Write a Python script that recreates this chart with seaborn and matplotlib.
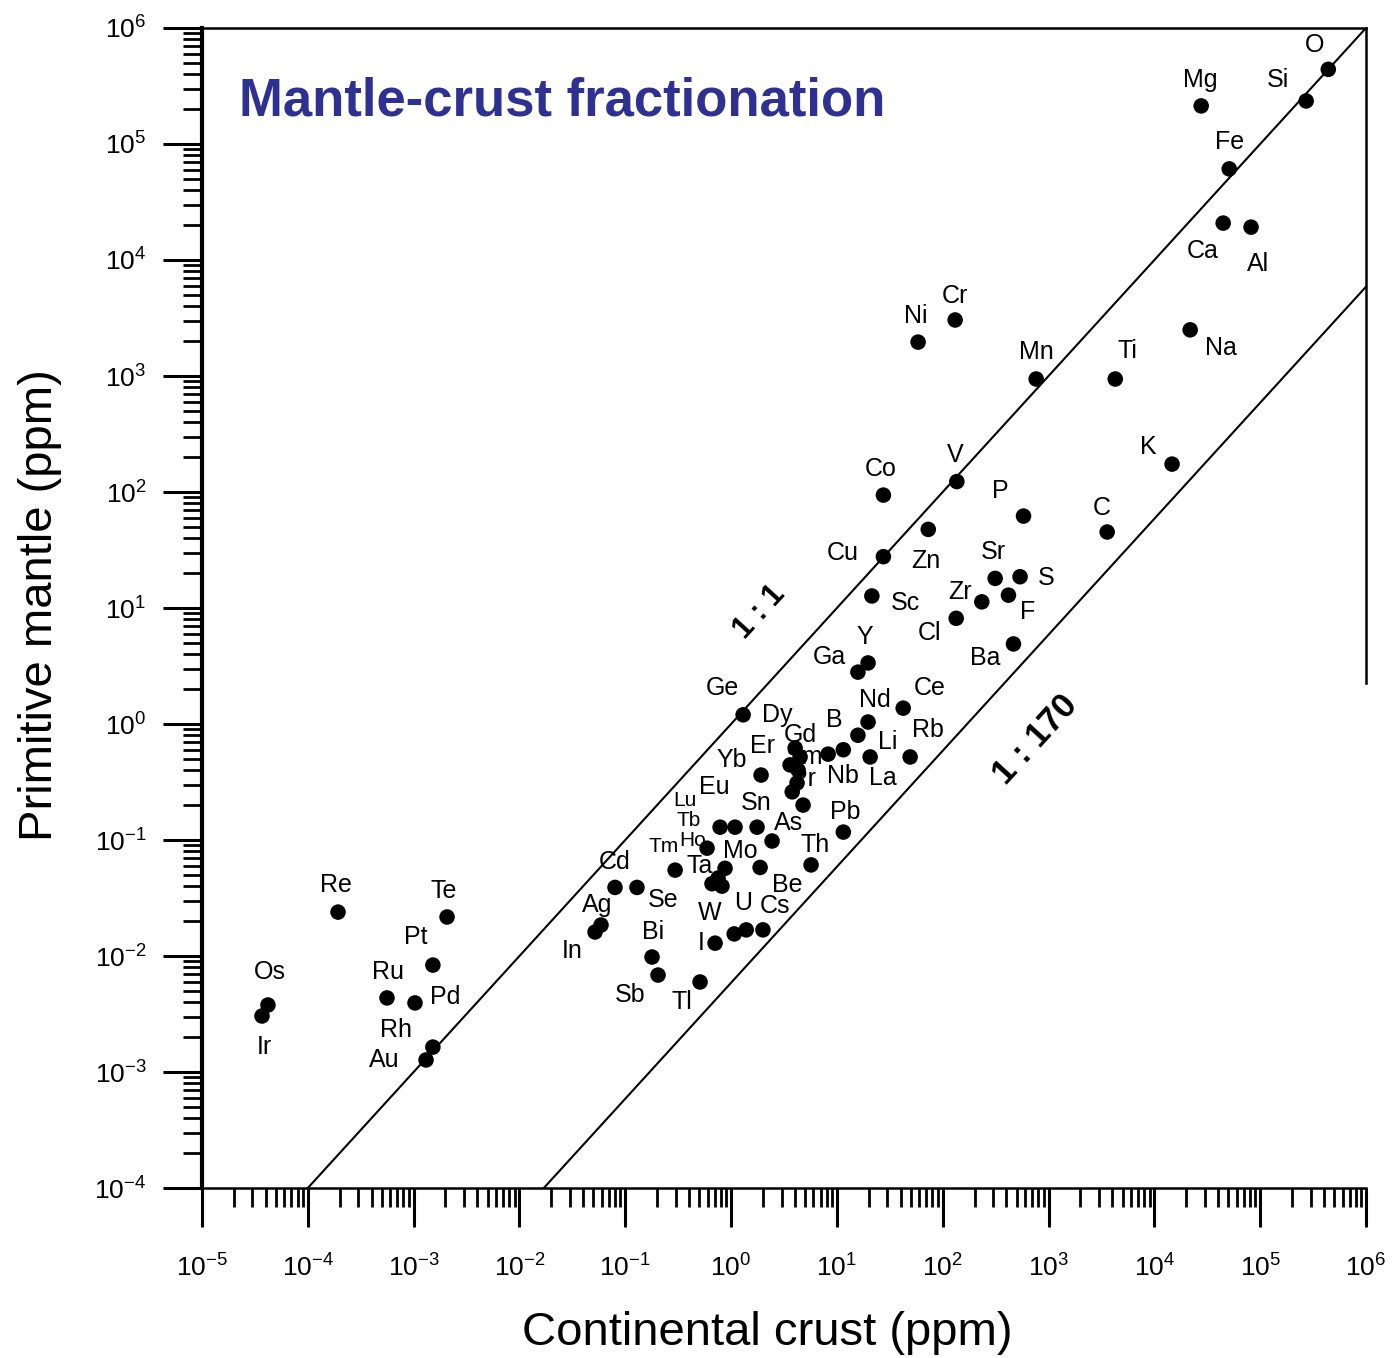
import numpy as np
import pandas as pd
import matplotlib
matplotlib.use("Agg")
import matplotlib.pyplot as plt
import seaborn as sns
from matplotlib.ticker import LogLocator, FuncFormatter, NullFormatter

# ---------------- data (ppm) ----------------
elements = ["O", "Si", "Mg", "Fe", "Ca", "Al", "Na", "Ti", "Mn", "Cr", "Ni", "K", "C",
            "P", "V", "Co", "Cu", "Zn", "Sr", "S", "F", "Zr", "Sc", "Cl", "Ba", "Y", "Ga",
            "Ce", "Nd", "B", "Li", "Rb", "Nb", "La", "Ge", "Yb", "Dy", "Gd", "Er", "Sm",
            "Pr", "Ho", "Hf", "Tb", "Eu", "Sn", "As", "Lu", "Be", "Th", "Pb", "Tm", "Mo",
            "Ta", "Hg", "Hf2", "Cd", "Se", "Ag", "In", "Bi", "Sb", "Tl", "I", "W", "U", "Cs",
            "Re", "Te", "Pt", "Ru", "Pd", "Os", "Ir", "Rh", "Au"]
crust = [4.4e5, 2.72e5, 2.77e4, 5.1e4, 4.47e4, 8.2e4, 2.18e4, 4270, 764, 131, 58.5, 1.47e4, 3580,
         580, 136, 27.5, 27.5, 73, 313, 538, 418, 234, 21.4, 134, 466, 19.7, 15.8,
         42.3, 19.7, 15.8, 20.6, 49.2, 8.26, 11.5, 1.30, 1.92, 4.03, 4.49, 3.61, 4.30,
         4.20, 3.78, 4.79, 0.787, 1.09, 1.76, 2.44, 0.593, 1.88, 5.70, 11.5, 0.296, 0.877,
         0.753, 0.82, 0.66, 0.080, 0.129, 0.059, 0.0518, 0.179, 0.204, 0.509, 0.706, 1.07, 1.39, 2.0,
         1.93e-4, 2.07e-3, 1.52e-3, 5.6e-4, 1.03e-3, 4.2e-5, 3.69e-5, 1.52e-3, 1.31e-3]
mantle = [4.4e5, 2.35e5, 2.13e5, 6.1e4, 2.08e4, 1.92e4, 2.5e3, 942, 942, 3040, 1960, 174, 45.2,
          62, 123, 94, 27.7, 47.6, 18, 18.6, 12.9, 11.3, 12.7, 8.15, 4.9, 3.36, 2.8,
          1.37, 1.04, 0.80, 0.52, 0.52, 0.55, 0.60, 1.20, 0.363, 0.62, 0.52, 0.444, 0.40,
          0.31, 0.26, 0.20, 0.129, 0.129, 0.129, 0.098, 0.085, 0.058, 0.061, 0.117, 0.055, 0.057,
          0.047, 0.040, 0.042, 0.039, 0.039, 0.0185, 0.0161, 0.0098, 0.00685, 0.00597, 0.0129, 0.0155, 0.0168, 0.0168,
          0.0239, 0.0217, 8.35e-3, 4.35e-3, 3.94e-3, 3.78e-3, 3.04e-3, 1.64e-3, 1.27e-3]

# element labels and their placement (log10 crust, log10 mantle)
label_text = ["O", "Si", "Mg", "Fe", "Ca", "Al", "Ni", "Cr", "Mn", "Ti", "Na", "K", "C",
              "P", "V", "Co", "Cu", "Zn", "Sr", "S", "Zr", "F", "Sc", "Cl", "Ba", "Y", "Ga",
              "Ce", "Nd", "B", "Rb", "Li", "La", "Nb", "Pr", "Ge", "Dy", "Gd", "Sm", "Er", "Yb",
              "Eu", "Lu", "Tb", "Ho", "Tm", "Sn", "As", "Pb", "Th", "Mo", "Ta", "Cd", "Se",
              "Ag", "In", "Bi", "Sb", "Tl", "I", "W", "U", "Cs", "Be",
              "Re", "Te", "Pt", "Os", "Ir", "Ru", "Pd", "Rh", "Au"]
label_lx = [5.510, 5.170, 4.433, 4.707, 4.461, 4.981, 1.749, 2.117, 2.883, 3.743, 4.631, 3.941, 3.507,
            2.543, 2.117, 1.418, 1.059, 1.843, 2.476, 2.977, 2.164, 2.807, 1.645, 1.872, 2.401, 1.267, 0.926,
            1.881, 1.361, 0.974, 1.862, 1.484, 1.437, 1.059, 0.681, -0.085, 0.440, 0.650, 0.699, 0.293, 0.009,
            -0.160, -0.440, -0.406, -0.360, -0.640, 0.236, 0.539, 1.077, 0.794, 0.085, -0.293, -1.096, -0.643,
            -1.267, -1.503, -0.737, -0.955, -0.463, -0.284, -0.198, 0.113, 0.416, 0.529,
            -3.733, -2.713, -2.977, -4.357, -4.414, -3.242, -2.703, -3.166, -3.280]
label_ly = [5.853, 5.552, 5.552, 5.017, 4.078, 3.966, 3.517, 3.690, 3.207, 3.216, 3.241, 2.388, 1.862,
            2.009, 2.319, 2.198, 1.474, 1.405, 1.483, 1.259, 1.138, 0.966, 1.043, 0.784, 0.569, 0.750, 0.578,
            0.310, 0.207, 0.034, -0.052, -0.155, -0.466, -0.448, -0.474, 0.310, 0.080, -0.095, -0.284, -0.190, -0.310,
            -0.540, -0.660, -0.830, -1.000, -1.060, -0.681, -0.853, -0.759, -1.043, -1.095, -1.224, -1.190, -1.517,
            -1.560, -1.957, -1.793, -2.336, -2.397, -1.888, -1.629, -1.543, -1.569, -1.388,
            -1.388, -1.440, -1.836, -2.138, -2.784, -2.138, -2.353, -2.638, -2.897]
crowded = {"Lu", "Tb", "Ho", "Tm"}

# reference lines: mantle = crust / ratio
ref_ratio = [1, 170]
ref_names = ["1 : 1", "1 : 170"]
ref_label_pos = [(0.274, 0.966), (2.873, -0.138)]

# ---------------- figure ----------------
sns.set_theme(style="ticks")
plt.rcParams["font.family"] = ["Liberation Sans", "DejaVu Sans"]
plt.rcParams["mathtext.default"] = "regular"
plt.rcParams["text.color"] = "black"

W, H = 1394, 1358
fig = plt.figure(figsize=(W / 100, H / 100), dpi=100)
ax = fig.add_axes([202 / W, 1 - 1188 / H, (1366 - 202) / W, (1188 - 28) / H])

df = pd.DataFrame({"element": elements, "crust": crust, "mantle": mantle})

# reference lines
for r in ref_ratio:
    xs = np.array([1e-5 * r, 1e6])
    ldf = pd.DataFrame({"x": xs, "y": xs / r})
    sns.lineplot(data=ldf, x="x", y="y", ax=ax, color="black", lw=1.5, legend=False)

sns.scatterplot(data=df, x="crust", y="mantle", ax=ax, color="black", s=125,
                edgecolor="none", linewidth=0, legend=False, zorder=5)

ax.set_xscale("log")
ax.set_yscale("log")
ax.set_xlim(1e-5, 1e6)
ax.set_ylim(1e-4, 1e6)

# labels
for t, lx, ly in zip(label_text, label_lx, label_ly):
    ax.text(10 ** lx, 10 ** ly, t, ha="center", va="center",
            fontsize=15 if t in crowded else 18, color="black", zorder=6)

angle = np.degrees(np.arctan2(116, 105.8))
for name, (lx, ly) in zip(ref_names, ref_label_pos):
    ax.text(10 ** lx, 10 ** ly, name, ha="center", va="center", rotation=angle,
            fontsize=22 if name == "1 : 1" else 25, fontweight="bold", color="black",
            rotation_mode="anchor")

ax.text(0.032, 0.937, "Mantle-crust fractionation", transform=ax.transAxes,
        ha="left", va="center", fontsize=38, fontweight="bold", color="#2E3192")

# ticks
fmt = FuncFormatter(lambda v, p: r"$\mathdefault{10^{%d}}$" % int(round(np.log10(v))))
ax.xaxis.set_major_locator(LogLocator(base=10, numticks=20))
ax.yaxis.set_major_locator(LogLocator(base=10, numticks=20))
ax.xaxis.set_minor_locator(LogLocator(base=10, subs=np.arange(2, 10), numticks=20))
ax.yaxis.set_minor_locator(LogLocator(base=10, subs=np.arange(2, 10), numticks=20))
ax.xaxis.set_major_formatter(fmt)
ax.yaxis.set_major_formatter(fmt)
ax.xaxis.set_minor_formatter(NullFormatter())
ax.yaxis.set_minor_formatter(NullFormatter())
ax.tick_params(axis="both", which="major", direction="out", length=28, width=2.2,
               labelsize=19, colors="black", labelcolor="black")
ax.tick_params(axis="both", which="minor", direction="out", length=14, width=2.0, colors="black")
ax.tick_params(axis="x", which="major", pad=20)
ax.tick_params(axis="y", which="major", pad=12)

for side in ["left", "bottom", "top", "right"]:
    ax.spines[side].set_visible(True)
    ax.spines[side].set_color("black")
ax.spines["left"].set_linewidth(3)
ax.spines["bottom"].set_linewidth(1.8)
ax.spines["top"].set_linewidth(1.8)
ax.spines["right"].set_linewidth(1.8)
ax.spines["right"].set_bounds(2.25, 1e6)

ax.set_xlabel("")
ax.set_ylabel("")
fig.text(767 / W, 1 - 1333 / H, "Continental crust (ppm)", ha="center", va="center",
         fontsize=34, color="black")
fig.text(40 / W, 1 - 605 / H, "Primitive mantle (ppm)", ha="center", va="center",
         rotation=90, fontsize=34, color="black")

fig.savefig("out.png", dpi=100)
